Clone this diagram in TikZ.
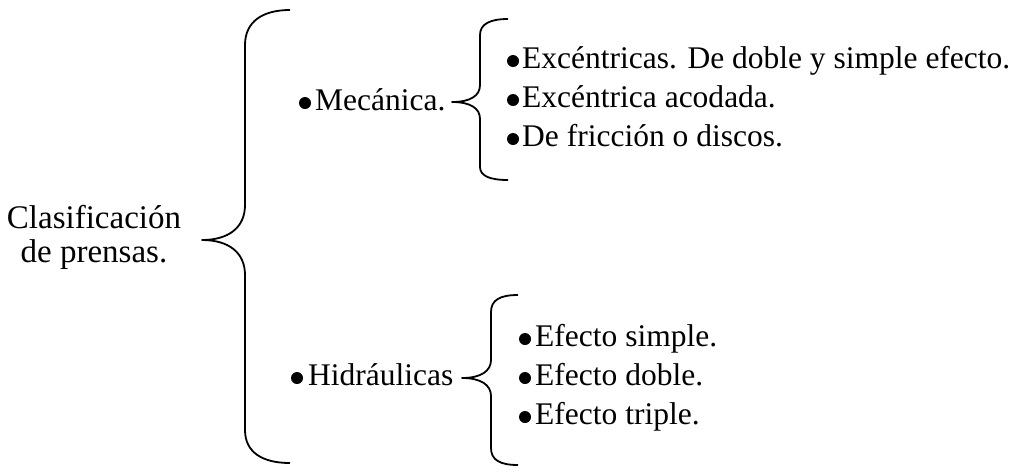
\documentclass[tikz,border=0pt]{standalone}
\usepackage{fontspec}
\setmainfont{Liberation Serif}
\begin{document}
\begin{tikzpicture}[x=1pt,y=-1pt,
  lbl/.style={anchor=base west,inner sep=0pt,font=\fontsize{31.5}{33}\selectfont},
  dot/.style={circle,fill=black,inner sep=0pt,minimum size=12pt},
  brace/.style={line width=1.8pt,line join=round}]
\useasboundingbox (0,0) rectangle (1019,472);
% root
\node[align=center,inner sep=0pt,font=\fontsize{33}{34}\selectfont] (root) at (94,237) {Clasificación\\de prensas.};
% big brace
\coordinate (bigtip) at (202,240);
\draw[brace] (290,10) .. controls (262,10) and (245,22) .. (245,45) -- (245,205)
  .. controls (245,228) and (228,240) .. (bigtip)
  .. controls (228,240) and (245,252) .. (245,275) -- (245,430)
  .. controls (245,452) and (262,463) .. (290,463);
% Mecanica
\node[dot] (bm) at (305,103) {};
\node[lbl] (mec) at (315,110) {Mecánica.};
\coordinate (mtip) at (452,102);
\draw[brace] (508,19) .. controls (490,19) and (480,24) .. (480,35) -- (480,85)
  .. controls (480,96) and (470,102) .. (mtip)
  .. controls (470,102) and (480,108) .. (480,119) -- (480,167)
  .. controls (480,176) and (490,180) .. (508,180);
\node[dot] (b1) at (513,61) {};
\node[lbl] (m1) at (522,68) {Excéntricas. De doble y simple efecto.};
\node[dot] (b2) at (513,100) {};
\node[lbl] (m2) at (522,107) {Excéntrica acodada.};
\node[dot] (b3) at (513,139) {};
\node[lbl] (m3) at (522,146) {De fricción o discos.};
% Hidraulicas
\node[dot] (bh) at (297,378) {};
\node[lbl] (hid) at (308,385) {Hidráulicas};
\coordinate (htip) at (462,378);
\draw[brace] (518,295) .. controls (500,295) and (491,300) .. (491,312) -- (491,360)
  .. controls (491,371) and (481,378) .. (htip)
  .. controls (481,378) and (491,385) .. (491,396) -- (491,448)
  .. controls (491,460) and (500,465) .. (518,465);
\node[dot] (c1) at (525,339) {};
\node[lbl] (h1) at (535,346) {Efecto simple.};
\node[dot] (c2) at (525,378) {};
\node[lbl] (h2) at (535,385) {Efecto doble.};
\node[dot] (c3) at (525,417) {};
\node[lbl] (h3) at (535,424) {Efecto triple.};
\end{tikzpicture}
\end{document}
